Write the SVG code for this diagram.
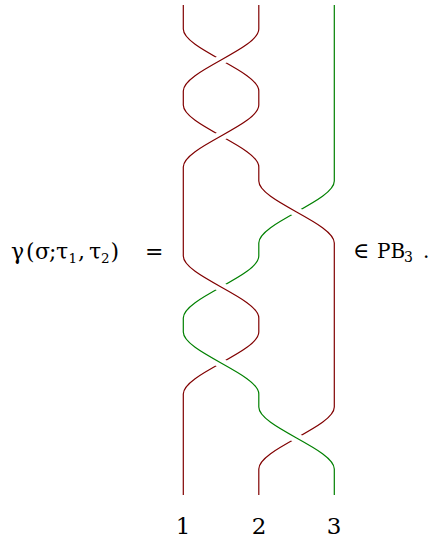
<svg xmlns="http://www.w3.org/2000/svg" width="432" height="539" viewBox="0 0 432 539">
<style>
.s{fill:none;stroke-width:1.2}
.r{stroke:#800000}
.g{stroke:#008000}
.h{fill:none;stroke:#fff;stroke-width:10}
</style>
<rect width="432" height="539" fill="#fff"/>
<g id="strands">
<path id="strandA" class="s r" d="M183.3,5 V29 C183.3,49 258.8,71 258.8,91 V105 C258.8,125 183.3,147 183.3,167 V256 C183.3,276 258.8,298 258.8,318 V332 C258.8,352 183.3,374 183.3,394 V495"/>
<path id="strandB" class="s r" d="M258.8,5 V29 C258.8,49 183.3,71 183.3,91 V105 C183.3,125 258.8,147 258.8,167 V181 C258.8,201 334.3,223 334.3,243 V407 C334.3,427 258.8,449 258.8,469 V495"/>
<path id="strandC" class="s g" d="M334.3,5 V181 C334.3,201 258.8,223 258.8,243 V256 C258.8,276 183.3,298 183.3,318 V332 C183.3,352 258.8,374 258.8,394 V407 C258.8,427 334.3,449 334.3,469 V495"/>
</g>
<g id="crossings">
<g id="c1"><path class="h" d="M258.8,29 C258.8,49 183.3,71 183.3,91"/><path class="s r" d="M258.8,29 C258.8,49 183.3,71 183.3,91"/></g>
<g id="c2"><path class="h" d="M258.8,105 C258.8,125 183.3,147 183.3,167"/><path class="s r" d="M258.8,105 C258.8,125 183.3,147 183.3,167"/></g>
<g id="c3"><path class="h" d="M258.8,181 C258.8,201 334.3,223 334.3,243"/><path class="s r" d="M258.8,181 C258.8,201 334.3,223 334.3,243"/></g>
<g id="c4"><path class="h" d="M183.3,256 C183.3,276 258.8,298 258.8,318"/><path class="s r" d="M183.3,256 C183.3,276 258.8,298 258.8,318"/></g>
<g id="c5"><path class="h" d="M183.3,332 C183.3,352 258.8,374 258.8,394"/><path class="s g" d="M183.3,332 C183.3,352 258.8,374 258.8,394"/></g>
<g id="c6"><path class="h" d="M258.8,407 C258.8,427 334.3,449 334.3,469"/><path class="s g" d="M258.8,407 C258.8,427 334.3,449 334.3,469"/></g>
</g>
<g id="lhs" font-family="DejaVu Serif, serif" font-size="22" fill="#000">
<text x="11" y="259">γ</text>
<text x="26" y="259">(</text>
<text x="35" y="259">σ</text>
<text x="49" y="259">;</text>
<text x="56" y="259">τ</text>
<text x="68.5" y="263" font-size="13.5">1</text>
<text x="78" y="259">,</text>
<text x="89" y="259">τ</text>
<text x="101" y="263" font-size="13.5">2</text>
<text x="110.5" y="259">)</text>
<text x="145" y="259">=</text>
</g>
<g id="rhs" font-family="DejaVu Serif, serif" font-size="20" fill="#000">
<text x="353" y="258" font-size="22">∈</text>
<text x="377" y="258">PB</text>
<text x="404" y="262" font-size="14">3</text>
<text x="423" y="258">.</text>
</g>
<g id="labels" font-family="DejaVu Serif, serif" font-size="23" fill="#000" text-anchor="middle">
<text x="183" y="534">1</text>
<text x="259" y="534">2</text>
<text x="334" y="534">3</text>
</g>
</svg>
